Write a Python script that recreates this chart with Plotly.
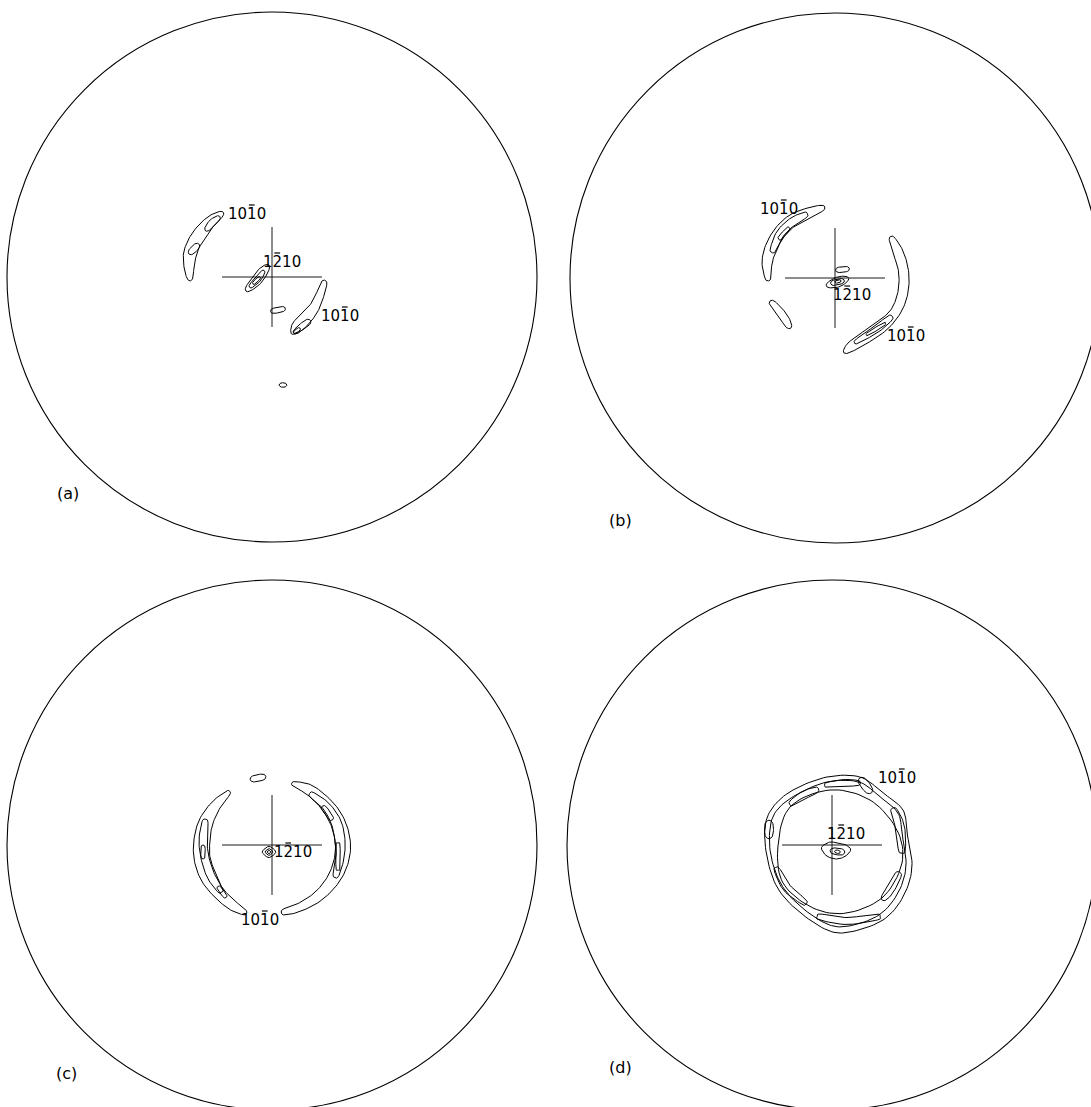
import numpy as np
import plotly.graph_objects as go

# ---------------------------------------------------------------------------
# Figure geometry (pole-figure units: net radius = 265 units)
# ---------------------------------------------------------------------------
W, H = 1091, 1107
NET_RADIUS = 265
CROSS_ARM = 50

PANELS = ["a", "b", "c", "d"]
PANEL_CENTRE = {"a": (272, 277), "b": (835, 278), "c": (272, 845), "d": (832, 845)}
PANEL_TAG = {"a": "(a)", "b": "(b)", "c": "(c)", "d": "(d)"}
PANEL_TAG_POS = {"a": (55, 493), "b": (620, 520), "c": (54, 1085), "d": (620, 1079)}

# Miller-Bravais indices: digits and which digit carries the overbar
POLE_1010 = ("1010", 2)
POLE_1210 = ("1210", 1)

# ---------------------------------------------------------------------------
# Contour data: each contour = (spine points [x, y], half widths)
# ---------------------------------------------------------------------------
CONTOURS_A = [
    ([(-51, 63), (-60, 57), (-69, 47), (-77, 36), (-82, 23), (-83, 10), (-82, -1)], [3, 5, 6.5, 6.5, 6.5, 5, 3]),
    ([(-54, 59), (-60, 54), (-65, 48)], [2.5, 3.5, 2.5]),
    ([(-81, 25), (-75, 31)], [3, 3]),
    ([(-24, -12), (-16, -4), (-10, 4), (-5, 10)], [3, 5, 5, 3]),
    ([(-21, -9), (-14, -2), (-9, 5)], [2, 3, 2]),
    ([(-18, -6), (-13, -1)], [1.5, 1.5]),
    ([(1, -34), (11, -32)], [2.5, 2.5]),
    ([(52, -6), (48, -18), (42, -31), (34, -41), (26, -49), (22, -54)], [3, 4, 5, 6, 6, 4]),
    ([(36, -45), (28, -51), (23, -55)], [3, 3, 2]),
    ([(27, -52), (23, -55)], [1.5, 1.5]),
    ([(9, -108), (13, -108)], [2, 2]),
]
LABELS_A = [(POLE_1010, -25, 63), (POLE_1210, 10, 15), (POLE_1010, 68, -39)]

CONTOURS_B = [
    ([(-13, 70), (-27, 65), (-42, 58), (-55, 46), (-64, 30), (-68, 15), (-67, 0)], [3, 5, 6, 6, 6, 5, 3]),
    ([(-30, 63), (-43, 56), (-55, 44), (-62, 28)], [3, 4, 4, 3]),
    ([(-47, 49), (-55, 40)], [2, 2]),
    ([(3, 8), (12, 9)], [2.5, 2.5]),
    ([(-6, -7), (3, -4), (11, -1)], [3, 5, 3]),
    ([(-2, -5), (7, -3)], [2.5, 2.5]),
    ([(1, -4), (5, -3)], [1.2, 1.2]),
    ([(-63, -25), (-56, -33), (-50, -41), (-46, -48)], [3, 4, 4, 3]),
    ([(57, 39), (63, 26), (68, 10), (69, -6), (66, -22), (59, -36), (47, -48), (31, -59), (17, -68), (11, -73)],
     [3, 5, 5, 5, 5, 5, 6, 6, 5, 3]),
    ([(55, -40), (43, -50), (29, -59), (21, -64)], [3, 3.5, 3, 2]),
    ([(49, -46), (33, -56)], [1.5, 1.5]),
]
LABELS_B = [(POLE_1010, -56, 69), (POLE_1210, 17, -17), (POLE_1010, 71, -58)]

CONTOURS_C = [
    ([(-44, 52), (-56, 40), (-66, 23), (-70, 5), (-70, -13), (-64, -31), (-54, -47), (-40, -60), (-28, -67)],
     [2.5, 5, 7, 8, 8, 8, 6, 5, 3]),
    ([(-67, 23), (-69, 5), (-67, -13), (-61, -31), (-52, -45)], [3, 4, 4, 4, 3]),
    ([(-69, -2), (-69, -12)], [2, 2]),
    ([(-53, -43), (-47, -51)], [2, 2]),
    ([(22, 61), (36, 56), (50, 45), (62, 30), (69, 13), (71, -5), (67, -23), (58, -39), (44, -53), (26, -63), (12, -67)],
     [2.5, 5, 6, 7, 7.5, 7.5, 7, 6, 5, 4, 3]),
    ([(40, 50), (54, 39), (64, 23), (68, 5), (68, -13), (64, -30)], [3, 4, 5, 5, 4, 3]),
    ([(52, 37), (59, 27)], [2.5, 2.5]),
    ([(66, 0), (66, -23)], [2, 2]),
    ([(-19, 66), (-9, 68)], [3, 3]),
    ([(-5, -7), (-1, -7)], [5, 5]),
    ([(-4, -7), (-2, -7)], [3, 3]),
    ([(-3.5, -7), (-2.5, -7)], [1.5, 1.5]),
]
LABELS_C = [(POLE_1210, 21, -7), (POLE_1010, -12, -75)]

CONTOURS_D = [
    ([(-40, 42), (-28, 50), (-16, 55)], [3, 4, 3]),
    ([(-5, 60), (12, 62), (26, 62)], [2.5, 3.5, 2.5]),
    ([(30, 64), (37, 55)], [4, 4]),
    ([(62, 34), (68, 18), (70, -5)], [3.5, 4.5, 3.5]),
    ([(66, -30), (58, -45), (52, -53)], [3.5, 4, 3]),
    ([(-12, -72), (15, -76), (45, -72)], [3, 3.5, 3]),
    ([(-55, -25), (-45, -43), (-28, -57)], [3, 4, 3]),
    ([(-63, 21), (-63, 10)], [4, 4]),
    ([(-4, -4), (5, -6), (13, -5)], [7, 8, 6]),
    ([(1, -6), (10, -7)], [3, 3]),
    ([(4, -6.5), (7, -7)], [1.5, 1.5]),
]
RING_D_OUTER = [(-39, 55), (-5, 68), (28, 68), (51, 52), (71, 35), (75, 12), (80, -22), (71, -52),
                (51, -75), (18, -87), (-5, -85), (-35, -65), (-55, -42), (-65, -12), (-67, 18), (-59, 38)]
RING_D_SECOND = [(-36, 50), (-5, 63), (27, 63), (48, 48), (66, 32), (70, 11), (74, -21), (66, -48),
                 (47, -70), (17, -81), (-5, -79), (-32, -61), (-51, -39), (-61, -11), (-62, 17), (-55, 35)]
RING_D_INNER = [(-54, -1), (-42, 38), (-2, 55), (38, 45), (65, 15), (70, -18), (51, -52), (15, -68),
                (-19, -63), (-49, -38)]
LABELS_D = [(POLE_1210, 14, 11), (POLE_1010, 65, 67)]

PANEL_CONTOURS = {"a": CONTOURS_A, "b": CONTOURS_B, "c": CONTOURS_C, "d": CONTOURS_D}
PANEL_LABELS = {"a": LABELS_A, "b": LABELS_B, "c": LABELS_C, "d": LABELS_D}
PANEL_RINGS = {"d": [RING_D_OUTER, RING_D_SECOND, RING_D_INNER]}

FONT = "DejaVu Sans, sans-serif"
LABEL_SIZE = 15
DIGIT_ADVANCE = 0.636  # em, DejaVu Sans digits


def smooth_closed(pts, n=10):
    P = np.asarray(pts, float)
    m = len(P)
    out = []
    for i in range(m):
        p0, p1, p2, p3 = P[(i - 1) % m], P[i], P[(i + 1) % m], P[(i + 2) % m]
        for t in np.linspace(0, 1, n, endpoint=False):
            t2, t3 = t * t, t * t * t
            out.append(0.5 * (2 * p1 + (-p0 + p2) * t + (2 * p0 - 5 * p1 + 4 * p2 - p3) * t2
                              + (-p0 + 3 * p1 - 3 * p2 + p3) * t3))
    out.append(out[0])
    return np.array(out)


def band_outline(spine, hw):
    S = np.asarray(spine, float)
    w = np.asarray(hw, float)[:, None]
    T = np.gradient(S, axis=0)
    T = T / np.linalg.norm(T, axis=1)[:, None]
    N = np.column_stack([-T[:, 1], T[:, 0]])
    left = S + N * w
    right = S - N * w
    start = S[0] - T[0] * w[0] * 0.95
    end = S[-1] + T[-1] * w[-1] * 0.95
    pts = [start] + list(left) + [end] + list(right[::-1])
    return smooth_closed(pts)


fig = go.Figure()
layout = dict(width=W, height=H, margin=dict(l=0, r=0, t=0, b=0),
              paper_bgcolor="white", plot_bgcolor="white", showlegend=False)
shapes, annotations = [], []
PAD = 4

for k, p in enumerate(PANELS):
    cx, cy = PANEL_CENTRE[p]
    yc = H - cy
    x0, x1 = max(0, cx - NET_RADIUS - PAD), min(W, cx + NET_RADIUS + PAD)
    y0, y1 = max(0, yc - NET_RADIUS - PAD), min(H, yc + NET_RADIUS + PAD)
    sx = "" if k == 0 else str(k + 1)
    xa, ya = "x" + sx, "y" + sx
    layout["xaxis" + sx] = dict(domain=[x0 / W, x1 / W], range=[x0 - cx, x1 - cx], visible=False,
                                anchor=ya, fixedrange=True)
    layout["yaxis" + sx] = dict(domain=[y0 / H, y1 / H], range=[y0 - yc, y1 - yc], visible=False,
                                anchor=xa, fixedrange=True)

    # net circle
    shapes.append(dict(type="circle", xref=xa, yref=ya, x0=-NET_RADIUS, x1=NET_RADIUS,
                       y0=-NET_RADIUS, y1=NET_RADIUS, line=dict(color="black", width=1.1)))

    # reference cross
    fig.add_trace(go.Scatter(x=[-CROSS_ARM, CROSS_ARM, None, 0, 0],
                             y=[0, 0, None, -CROSS_ARM, CROSS_ARM],
                             mode="lines", line=dict(color="black", width=0.9),
                             xaxis=xa, yaxis=ya, hoverinfo="skip"))

    # contours
    xs, ys = [], []
    for spine, hw in PANEL_CONTOURS[p]:
        o = band_outline(spine, hw)
        xs += list(o[:, 0]) + [None]
        ys += list(o[:, 1]) + [None]
    for ring in PANEL_RINGS.get(p, []):
        o = smooth_closed(ring)
        xs += list(o[:, 0]) + [None]
        ys += list(o[:, 1]) + [None]
    fig.add_trace(go.Scatter(x=xs, y=ys, mode="lines", line=dict(color="black", width=1.0),
                             xaxis=xa, yaxis=ya, hoverinfo="skip"))

    # pole labels with overbar
    bx, by = [], []
    adv = DIGIT_ADVANCE * LABEL_SIZE
    for (digits, bar_i), lx, ly in PANEL_LABELS[p]:
        annotations.append(dict(text=digits, x=lx, y=ly, xref=xa, yref=ya, showarrow=False,
                                font=dict(family=FONT, size=LABEL_SIZE, color="black")))
        xc = lx + (bar_i - (len(digits) - 1) / 2) * adv
        yb = ly + 0.6 * LABEL_SIZE
        bx += [xc - 0.3 * adv, xc + 0.3 * adv, None]
        by += [yb, yb, None]
    fig.add_trace(go.Scatter(x=bx, y=by, mode="lines", line=dict(color="black", width=1.2),
                             xaxis=xa, yaxis=ya, hoverinfo="skip"))

    tx, ty = PANEL_TAG_POS[p]
    annotations.append(dict(text=PANEL_TAG[p], x=tx / W, y=1 - ty / H, xref="paper", yref="paper",
                            showarrow=False, font=dict(family=FONT, size=16, color="black")))

layout["shapes"] = shapes
layout["annotations"] = annotations
fig.update_layout(**layout)
fig.write_html("out.html", config={"displayModeBar": False},
               post_script="document.body.style.margin='0';document.body.style.overflow='hidden';")
